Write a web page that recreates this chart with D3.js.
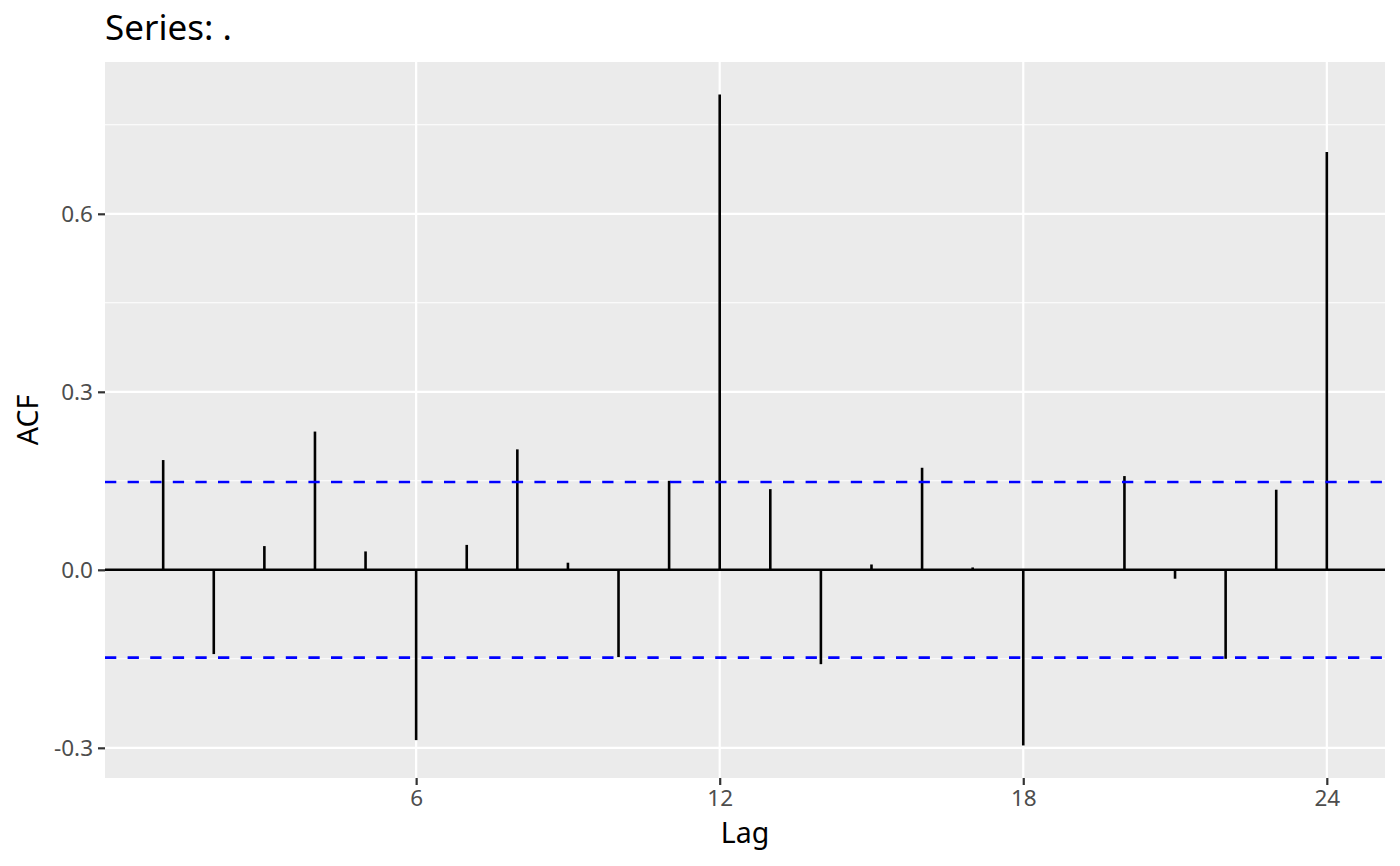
<!DOCTYPE html>
<html>
<head>
<meta charset="utf-8">
<script src="https://cdn.jsdelivr.net/npm/d3@7"></script>
<style>
  html, body { margin: 0; padding: 0; background: #fff; }
  svg { display: block; font-family: "Noto Sans", "Open Sans", sans-serif; }
</style>
</head>
<body>
<svg id="chart" width="1400" height="866"></svg>
<script>
const titleText = "Series: .";
const xLabel = "Lag";
const yLabel = "ACF";
const lags = [1,2,3,4,5,6,7,8,9,10,11,12,13,14,15,16,17,18,19,20,21,22,23,24];
const acfValues = [0.185,-0.142,0.040,0.233,0.031,-0.287,0.042,0.203,0.012,-0.147,0.150,0.801,
                   0.136,-0.159,0.009,0.172,0.004,-0.296,-0.001,0.158,-0.015,-0.150,0.135,0.704];
const ciLimit = 0.148;
const xBreaks = [6,12,18,24];
const yBreaks = [-0.3,0.0,0.3,0.6];
const yTickLabels = ["-0.3","0.0","0.3","0.6"];
const yMinorBreaks = [-0.15,0.15,0.45,0.75];

const svg = d3.select("#chart");
const panel = {left: 105, right: 1385, top: 62, bottom: 778};

const xmin = d3.min(lags), xmax = d3.max(lags);
const xexp = (xmax - xmin) * 0.05;
const x = d3.scaleLinear().domain([xmin - xexp, xmax + xexp]).range([panel.left, panel.right]);

const ylo = Math.min(0, d3.min(acfValues)), yhi = Math.max(0, d3.max(acfValues));
const yexp = (yhi - ylo) * 0.05;
const y = d3.scaleLinear().domain([ylo - yexp, yhi + yexp]).range([panel.bottom, panel.top]);

// panel background
svg.append("rect")
  .attr("x", panel.left).attr("y", panel.top)
  .attr("width", panel.right - panel.left).attr("height", panel.bottom - panel.top)
  .attr("fill", "#EBEBEB");

const grid = svg.append("g");
grid.selectAll(".ymin").data(yMinorBreaks).enter().append("line")
  .attr("x1", panel.left).attr("x2", panel.right)
  .attr("y1", d => y(d)).attr("y2", d => y(d))
  .attr("stroke", "#fff").attr("stroke-width", 1.1);
grid.selectAll(".ymaj").data(yBreaks).enter().append("line")
  .attr("x1", panel.left).attr("x2", panel.right)
  .attr("y1", d => y(d)).attr("y2", d => y(d))
  .attr("stroke", "#fff").attr("stroke-width", 2.2);
grid.selectAll(".xmaj").data(xBreaks).enter().append("line")
  .attr("y1", panel.top).attr("y2", panel.bottom)
  .attr("x1", d => x(d)).attr("x2", d => x(d))
  .attr("stroke", "#fff").attr("stroke-width", 2.2);

// zero line
svg.append("line")
  .attr("x1", panel.left).attr("x2", panel.right)
  .attr("y1", y(0)).attr("y2", y(0))
  .attr("stroke", "#000").attr("stroke-width", 2.6);

// segments
svg.append("g").selectAll("line").data(lags).enter().append("line")
  .attr("x1", d => x(d)).attr("x2", d => x(d))
  .attr("y1", y(0)).attr("y2", (d, i) => y(acfValues[i]))
  .attr("stroke", "#000").attr("stroke-width", 2.6);

// confidence lines
svg.append("g").selectAll("line").data([ciLimit, -ciLimit]).enter().append("line")
  .attr("x1", panel.left).attr("x2", panel.right)
  .attr("y1", d => y(d)).attr("y2", d => y(d))
  .attr("stroke", "#0000FF").attr("stroke-width", 2.6)
  .attr("stroke-dasharray", "11.3,11.3");

// axes
const xAxis = d3.axisBottom(x).tickValues(xBreaks).tickFormat(d3.format("d")).tickSize(7).tickPadding(5);
const gx = svg.append("g").attr("transform", `translate(0,${panel.bottom})`).call(xAxis);
gx.select(".domain").remove();
gx.selectAll(".tick line").attr("stroke", "#333333").attr("stroke-width", 2.2);
gx.selectAll(".tick text").attr("fill", "#4D4D4D").style("font-size", "22.5px").attr("font-family", "Noto Sans");

const yAxis = d3.axisLeft(y).tickValues(yBreaks).tickFormat((d, i) => yTickLabels[i]).tickSize(7).tickPadding(5);
const gy = svg.append("g").attr("transform", `translate(${panel.left},0)`).call(yAxis);
gy.select(".domain").remove();
gy.selectAll(".tick line").attr("stroke", "#333333").attr("stroke-width", 2.2);
gy.selectAll(".tick text").attr("fill", "#4D4D4D").style("font-size", "22.5px").attr("font-family", "Noto Sans");

// titles
svg.append("text").attr("x", panel.left).attr("y", 40)
  .attr("fill", "#000").style("font-size", "35px").text(titleText);
svg.append("text").attr("x", (panel.left + panel.right) / 2).attr("y", 843)
  .attr("text-anchor", "middle").attr("fill", "#000").style("font-size", "28.5px").text(xLabel);
svg.append("text")
  .attr("transform", `translate(38,${(panel.top + panel.bottom) / 2}) rotate(-90)`)
  .attr("text-anchor", "middle").attr("fill", "#000").style("font-size", "28.5px").text(yLabel);
</script>
</body>
</html>
